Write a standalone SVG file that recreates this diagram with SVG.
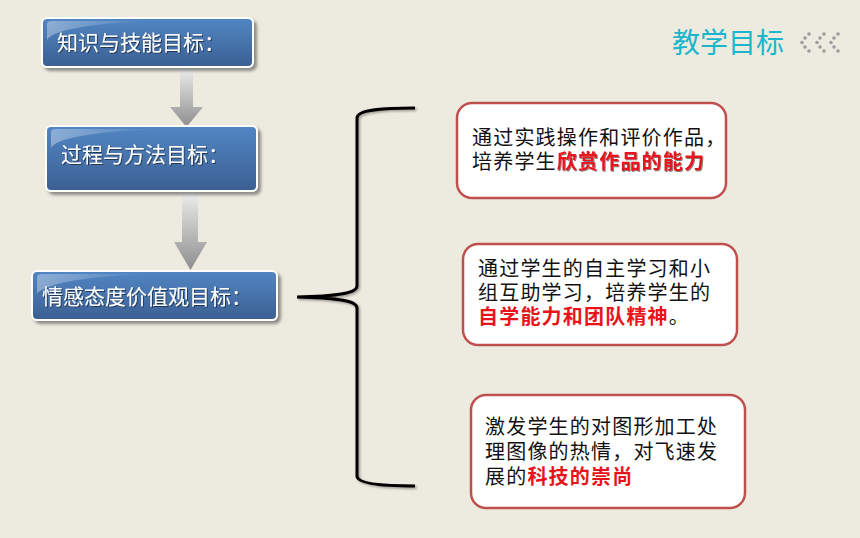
<svg xmlns="http://www.w3.org/2000/svg" width="860" height="538" viewBox="0 0 860 538">
<defs>
<style>
.bt{font-family:"Liberation Sans","Noto Sans CJK SC",sans-serif;font-size:21px;fill:#fff;}
.tt{font-family:"Liberation Sans","Noto Sans CJK SC",sans-serif;font-size:20px;letter-spacing:1.2px;fill:#111;}
.rd{fill:#E8141B;font-weight:bold;}
.rbox{fill:#fff;stroke:#C0504D;stroke-width:2.5;}
.bbox{fill:url(#bg);stroke:#fff;stroke-width:2;}
.dot{fill:#9c9c9c;}
</style>
<linearGradient id="bg" x1="0" y1="0" x2="0" y2="1">
<stop offset="0" stop-color="#5286C4"/>
<stop offset="1" stop-color="#3B5F92"/>
</linearGradient>
<linearGradient id="gl" x1="0" y1="0" x2="1" y2="0">
<stop offset="0" stop-color="#fff" stop-opacity="0.35"/>
<stop offset="1" stop-color="#fff" stop-opacity="0"/>
</linearGradient>
<linearGradient id="ag" x1="0" y1="0" x2="0" y2="1">
<stop offset="0" stop-color="#eeeeee"/>
<stop offset="1" stop-color="#8e8e8e"/>
</linearGradient>
<filter id="sh" x="-10%" y="-20%" width="130%" height="150%">
<feDropShadow dx="3" dy="3" stdDeviation="1.5" flood-color="#000" flood-opacity="0.4"/>
</filter>
<filter id="ts" x="-5%" y="-20%" width="110%" height="150%">
<feDropShadow dx="1" dy="1" stdDeviation="0.6" flood-color="#000" flood-opacity="0.5"/>
</filter>
<filter id="ls" x="-20%" y="-5%" width="140%" height="110%">
<feDropShadow dx="1.5" dy="1.5" stdDeviation="1" flood-color="#000" flood-opacity="0.35"/>
</filter>
</defs>
<rect width="860" height="538" fill="#EDEAE0"/>

<g id="title">
<text x="672" y="53" style="font-family:'Liberation Sans','Noto Sans CJK SC',sans-serif;font-size:28px;fill:#1AB6CC;">教学目标</text>
<g class="dot">
<circle cx="809" cy="34" r="1.8"/><circle cx="805" cy="38" r="1.8"/><circle cx="802" cy="42.5" r="1.8"/><circle cx="805" cy="47" r="1.8"/><circle cx="809" cy="51" r="1.8"/>
<circle cx="824" cy="34" r="1.8"/><circle cx="820" cy="38" r="1.8"/><circle cx="817" cy="42.5" r="1.8"/><circle cx="820" cy="47" r="1.8"/><circle cx="824" cy="51" r="1.8"/>
<circle cx="838" cy="34" r="1.8"/><circle cx="834" cy="38" r="1.8"/><circle cx="831" cy="42.5" r="1.8"/><circle cx="834" cy="47" r="1.8"/><circle cx="838" cy="51" r="1.8"/>
</g>
</g>

<g id="connectors">
<path d="M180,67 L193,67 L193,107 L203,107 L186.5,127 L170,107 L180,107 Z" fill="url(#ag)"/>
<path d="M182,191 L198,191 L198,242 L207,242 L190.5,270 L174,242 L182,242 Z" fill="url(#ag)"/>
<path d="M415,108 C385,108 357,109 357,118 L357,286 C357,293 340,296 297,297 C340,298 357,301 357,308 L357,476 C357,484 385,486 415,486" fill="none" stroke="#000" stroke-width="3" filter="url(#ls)"/>
</g>

<g id="node1">
<rect class="bbox" x="42" y="18" width="211" height="49" rx="5" filter="url(#sh)"/>
<path d="M47,24 Q47,21 52,21 L150,21 Q90,23 60,32 Q50,35 47,40 Z" fill="url(#gl)"/>
<text class="bt" x="57" y="50" filter="url(#ts)">知识与技能目标：</text>
</g>

<g id="node2">
<rect class="bbox" x="46" y="126" width="211" height="65" rx="5" filter="url(#sh)"/>
<path d="M51,132 Q51,129 56,129 L160,129 Q95,131 64,140 Q54,143 51,148 Z" fill="url(#gl)"/>
<text class="bt" x="61" y="162" filter="url(#ts)">过程与方法目标：</text>
</g>

<g id="node3">
<rect class="bbox" x="32" y="271" width="245" height="49" rx="5" filter="url(#sh)"/>
<path d="M37,277 Q37,274 42,274 L150,274 Q85,276 54,285 Q44,288 37,293 Z" fill="url(#gl)"/>
<text class="bt" x="42" y="304" filter="url(#ts)">情感态度价值观目标：</text>
</g>

<g id="boxA">
<rect class="rbox" x="457" y="103" width="269" height="95" rx="15"/>
<text class="tt" x="472" y="145">通过实践操作和评价作品，</text>
<text class="tt" x="472" y="169">培养学生<tspan class="rd" filter="url(#ts)">欣赏作品的能力</tspan></text>
</g>

<g id="boxB">
<rect class="rbox" x="463" y="244" width="274" height="101" rx="15"/>
<text class="tt" x="478" y="276">通过学生的自主学习和小</text>
<text class="tt" x="478" y="300">组互助学习，培养学生的</text>
<text class="tt" x="478" y="324"><tspan class="rd">自学能力和团队精神</tspan>。</text>
</g>

<g id="boxC">
<rect class="rbox" x="471" y="395" width="274" height="113" rx="15"/>
<text class="tt" x="485" y="434">激发学生的对图形加工处</text>
<text class="tt" x="485" y="459">理图像的热情，对飞速发</text>
<text class="tt" x="485" y="484">展的<tspan class="rd">科技的崇尚</tspan></text>
</g>
</svg>
